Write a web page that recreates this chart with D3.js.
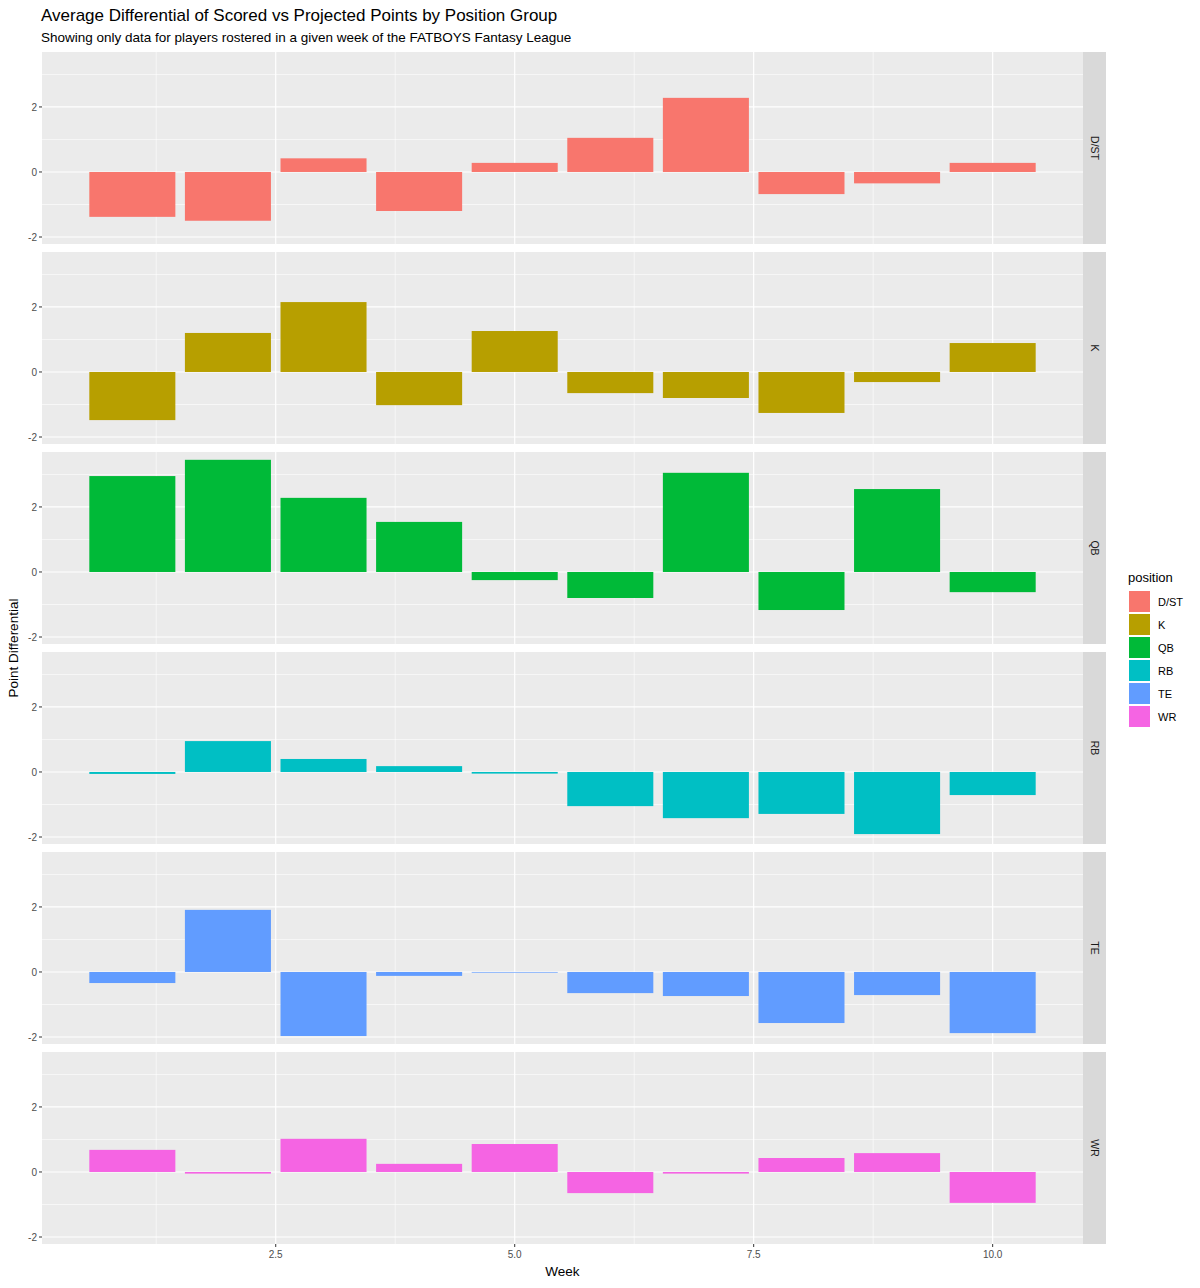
<!DOCTYPE html>
<html><head><meta charset="utf-8">
<script src="https://cdn.jsdelivr.net/npm/d3@7"></script>
<style>body{margin:0;background:#fff;font-family:"Liberation Sans",Arial,sans-serif;}</style>
</head><body><svg id="chart" width="1200" height="1288"></svg>
<script>
const weeks = [1, 2, 3, 4, 5, 6, 7, 8, 9, 10];
const positions = ['D/ST', 'K', 'QB', 'RB', 'TE', 'WR'];
const colors = ['#F8766D', '#B79F00', '#00BA38', '#00BFC4', '#619CFF', '#F564E3'];
const dst = [-1.38, -1.5, 0.42, -1.2, 0.28, 1.05, 2.28, -0.68, -0.35, 0.28];
const k = [-1.48, 1.2, 2.15, -1.02, 1.26, -0.65, -0.8, -1.26, -0.31, 0.89];
const qb = [2.95, 3.45, 2.28, 1.54, -0.25, -0.8, 3.05, -1.17, 2.55, -0.62];
const rb = [-0.06, 0.95, 0.4, 0.18, -0.05, -1.05, -1.42, -1.29, -1.91, -0.71];
const te = [-0.34, 1.91, -1.97, -0.12, -0.02, -0.65, -0.74, -1.57, -0.71, -1.88];
const wr = [0.68, -0.05, 1.02, 0.25, 0.86, -0.65, -0.05, 0.43, 0.58, -0.95];
const series = [dst, k, qb, rb, te, wr];
const xTicks = [2.5, 5.0, 7.5, 10.0];
const xMinor = [1.25, 3.75, 6.25, 8.75];
const yTicks = [-2, 0, 2];
const yMinor = [-1, 1, 3];

const svg = d3.select('#chart');
const left = 42, right = 1083, stripW = 23, top0 = 52, panelH = 192, gap = 8;
const x = d3.scaleLinear().domain([0.055, 10.945]).range([left, right]);
const y = d3.scaleLinear().domain([-2.215, 3.69]).range([panelH, 0]);
const grey = '#4D4D4D';

svg.append('text').attr('x', 41).attr('y', 21).attr('font-size', 17).text('Average Differential of Scored vs Projected Points by Position Group');
svg.append('text').attr('x', 41).attr('y', 42).attr('font-size', 13.5).text('Showing only data for players rostered in a given week of the FATBOYS Fantasy League');

positions.forEach((p, i) => {
    const g = svg.append('g').attr('transform', `translate(0, ${top0 + i * (panelH + gap)})`);
    g.append('rect').attr('x', left).attr('width', right - left).attr('height', panelH).attr('fill', '#EBEBEB');
    g.selectAll('.ym').data(yMinor).join('line').attr('x1', left).attr('x2', right)
        .attr('y1', d => y(d)).attr('y2', d => y(d)).attr('stroke', '#fff').attr('stroke-width', 0.6);
    g.selectAll('.xm').data(xMinor).join('line').attr('y1', 0).attr('y2', panelH)
        .attr('x1', d => x(d)).attr('x2', d => x(d)).attr('stroke', '#fff').attr('stroke-width', 0.6);
    g.selectAll('.yM').data(yTicks).join('line').attr('x1', left).attr('x2', right)
        .attr('y1', d => y(d)).attr('y2', d => y(d)).attr('stroke', '#fff').attr('stroke-width', 1.2);
    g.selectAll('.xM').data(xTicks).join('line').attr('y1', 0).attr('y2', panelH)
        .attr('x1', d => x(d)).attr('x2', d => x(d)).attr('stroke', '#fff').attr('stroke-width', 1.2);
    g.selectAll('.bar').data(series[i]).join('rect')
        .attr('x', (d, j) => x(weeks[j] - 0.45)).attr('width', x(0.9) - x(0))
        .attr('y', d => y(Math.max(0, d))).attr('height', d => Math.abs(y(d) - y(0)))
        .attr('fill', colors[i]);
    g.selectAll('.yl').data(yTicks).join('text').attr('x', left - 5).attr('y', d => y(d) + 4)
        .attr('text-anchor', 'end').attr('font-size', 10).attr('fill', grey).text(d => d);
    g.selectAll('.yt').data(yTicks).join('line').attr('x1', left - 3).attr('x2', left)
        .attr('y1', d => y(d)).attr('y2', d => y(d)).attr('stroke', '#333');
    g.append('rect').attr('x', right).attr('width', stripW).attr('height', panelH).attr('fill', '#D9D9D9');
    g.append('text').attr('transform', `translate(${right + stripW / 2 - 4}, ${panelH / 2}) rotate(90)`)
        .attr('text-anchor', 'middle').attr('font-size', 10.5).attr('fill', '#1A1A1A').text(p);
});

const bottom = top0 + 6 * panelH + 5 * gap;
svg.selectAll('.xl').data(xTicks).join('text').attr('x', d => x(d)).attr('y', bottom + 14)
    .attr('text-anchor', 'middle').attr('font-size', 10).attr('fill', grey).text(d => d.toFixed(1));
svg.selectAll('.xt').data(xTicks).join('line').attr('x1', d => x(d)).attr('x2', d => x(d))
    .attr('y1', bottom).attr('y2', bottom + 3).attr('stroke', '#333');
svg.append('text').attr('x', (left + right) / 2).attr('y', bottom + 32).attr('text-anchor', 'middle').attr('font-size', 13.5).text('Week');
svg.append('text').attr('transform', `translate(18, ${(top0 + bottom) / 2}) rotate(-90)`)
    .attr('text-anchor', 'middle').attr('font-size', 13.5).text('Point Differential');

const lg = svg.append('g').attr('transform', 'translate(1128, 582)');
lg.append('text').attr('y', 0).attr('font-size', 13).text('position');
positions.forEach((p, i) => {
    lg.append('rect').attr('x', 1).attr('y', 9 + i * 23).attr('width', 21).attr('height', 21).attr('fill', colors[i]);
    lg.append('text').attr('x', 30).attr('y', 24 + i * 23).attr('font-size', 11).text(p);
});
</script></body></html>
